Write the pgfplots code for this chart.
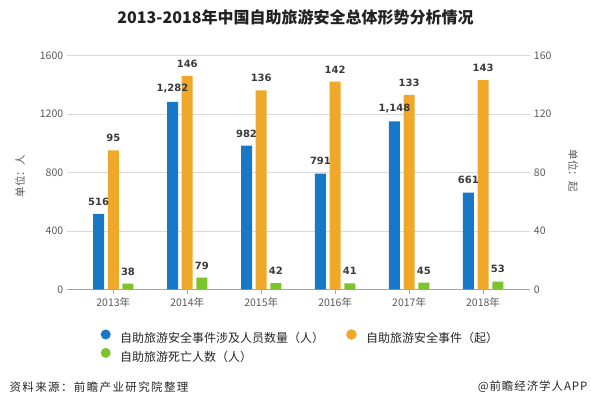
\documentclass[border=0pt]{standalone}
\usepackage{fontspec}
\setmainfont{Noto Sans CJK SC}
\newfontfamily\numfont{DejaVu Sans}
\usepackage{pgfplots}
\pgfplotsset{compat=1.18}
\definecolor{cblue}{HTML}{1878C8}
\definecolor{corange}{HTML}{F0A82A}
\definecolor{cgreen}{HTML}{7CC42C}
\definecolor{tickgray}{HTML}{595959}
\definecolor{gridgray}{HTML}{D9D9D9}
\definecolor{labgray}{HTML}{3A3A3A}
\definecolor{axgray}{HTML}{A6A6A6}
\pgfplotsset{
  common/.style={
    set layers,
    at={(66.7pt,118.7pt)}, anchor=south west,
    scale only axis, width=463.7pt, height=234pt,
    xmin=-0.63, xmax=5.64, ymin=0,
    /pgf/number format/assume math mode=true,
    xtick={0,1,2,3,4,5},
    nodes near coords={\pgfmathprintnumber[1000 sep={,}]{\pgfplotspointmeta}},
    nodes near coords style={font=\numfont\bfseries\fontsize{10}{12}\selectfont, text=labgray, anchor=south, yshift=5pt},
    ticklabel style={font=\fontsize{10.5}{12}\selectfont, text=tickgray, /pgf/number format/1000 sep={}},
    label style={font=\fontsize{10.5}{12}\selectfont, text=tickgray},
    y axis line style={draw=none},
    ytick style={draw=none},
  }
}
\begin{document}
\begin{tikzpicture}
\path (0pt,0pt) rectangle (591pt,408pt);
\node[font=\bfseries\fontsize{16}{18}\selectfont, text=black!87] at (295.5pt,391pt) {2013-2018年中国自助旅游安全总体形势分析情况};

% right axis: incidents (orange)
\begin{axis}[common,
  ymax=160, ytick={0,40,80,120,160},
  axis y line*=right, hide x axis,
  ylabel={单位：起},
  ylabel style={at={(axis description cs:1.092,0.506)}, anchor=center, rotate=180},
]
\addplot[ybar, fill=corange, draw=none, bar width=11pt, bar shift=0pt]
  coordinates {(0,95) (1,146) (2,136) (3,142) (4,133) (5,143)};
\end{axis}

% left axis: people (blue, green)
\begin{axis}[common,
  ymax=1600, ytick={0,400,800,1200,1600},
  ymajorgrids, grid style={gridgray, line width=0.6pt},
  axis x line*=bottom, axis y line*=left,
  x axis line style={draw=axgray, line width=0.8pt},
  xticklabels={2013年,2014年,2015年,2016年,2017年,2018年},
  x tick style={draw=axgray, line width=0.8pt},
  xtick align=outside, major tick length=5pt,
  ylabel={单位：人},
  ylabel style={at={(axis description cs:-0.1007,0.484)}, anchor=center},
  legend columns=2,
  legend cell align=left,
  legend style={at={(axis description cs:0.0729,-0.17)}, anchor=north west,
    draw=none, fill=none, inner sep=0pt, row sep=3.5pt,
    font=\fontsize{12}{13}\selectfont, text=black!85,
    nodes={inner sep=0pt},
    /tikz/every odd column/.append style={column sep=9.5pt},
    /tikz/every even column/.append style={column sep=22pt}},
]
\addplot[ybar, fill=cblue, draw=none, bar width=11pt, bar shift=-14.7pt,
  every node near coord/.append style={xshift=-14.7pt},
  legend image code/.code={\fill[cblue] (5pt,4pt) circle (5pt);}]
  coordinates {(0,516) (1,1282) (2,982) (3,791) (4,1148) (5,661)};
\addlegendentry{自助旅游安全事件涉及人员数量（人）}
\addlegendimage{legend image code/.code={\fill[corange] (5pt,4pt) circle (5pt);}}
\addlegendentry{自助旅游安全事件（起）}
\addplot[ybar, fill=cgreen, draw=none, bar width=11pt, bar shift=14.7pt,
  every node near coord/.append style={xshift=14.7pt},
  legend image code/.code={\fill[cgreen] (5pt,4pt) circle (5pt);}]
  coordinates {(0,38) (1,79) (2,42) (3,41) (4,45) (5,53)};
\addlegendentry{自助旅游死亡人数（人）}
\end{axis}

\node[anchor=west, font=\fontsize{11.5}{13}\selectfont\addfontfeature{LetterSpace=12}, text=black!85] at (6pt,21.3pt) {资料来源：前瞻产业研究院整理};
\node[anchor=east, font=\fontsize{11.5}{13}\selectfont\addfontfeature{LetterSpace=8}, text=black!85] at (591pt,21.3pt) {@前瞻经济学人APP};
\end{tikzpicture}
\end{document}
